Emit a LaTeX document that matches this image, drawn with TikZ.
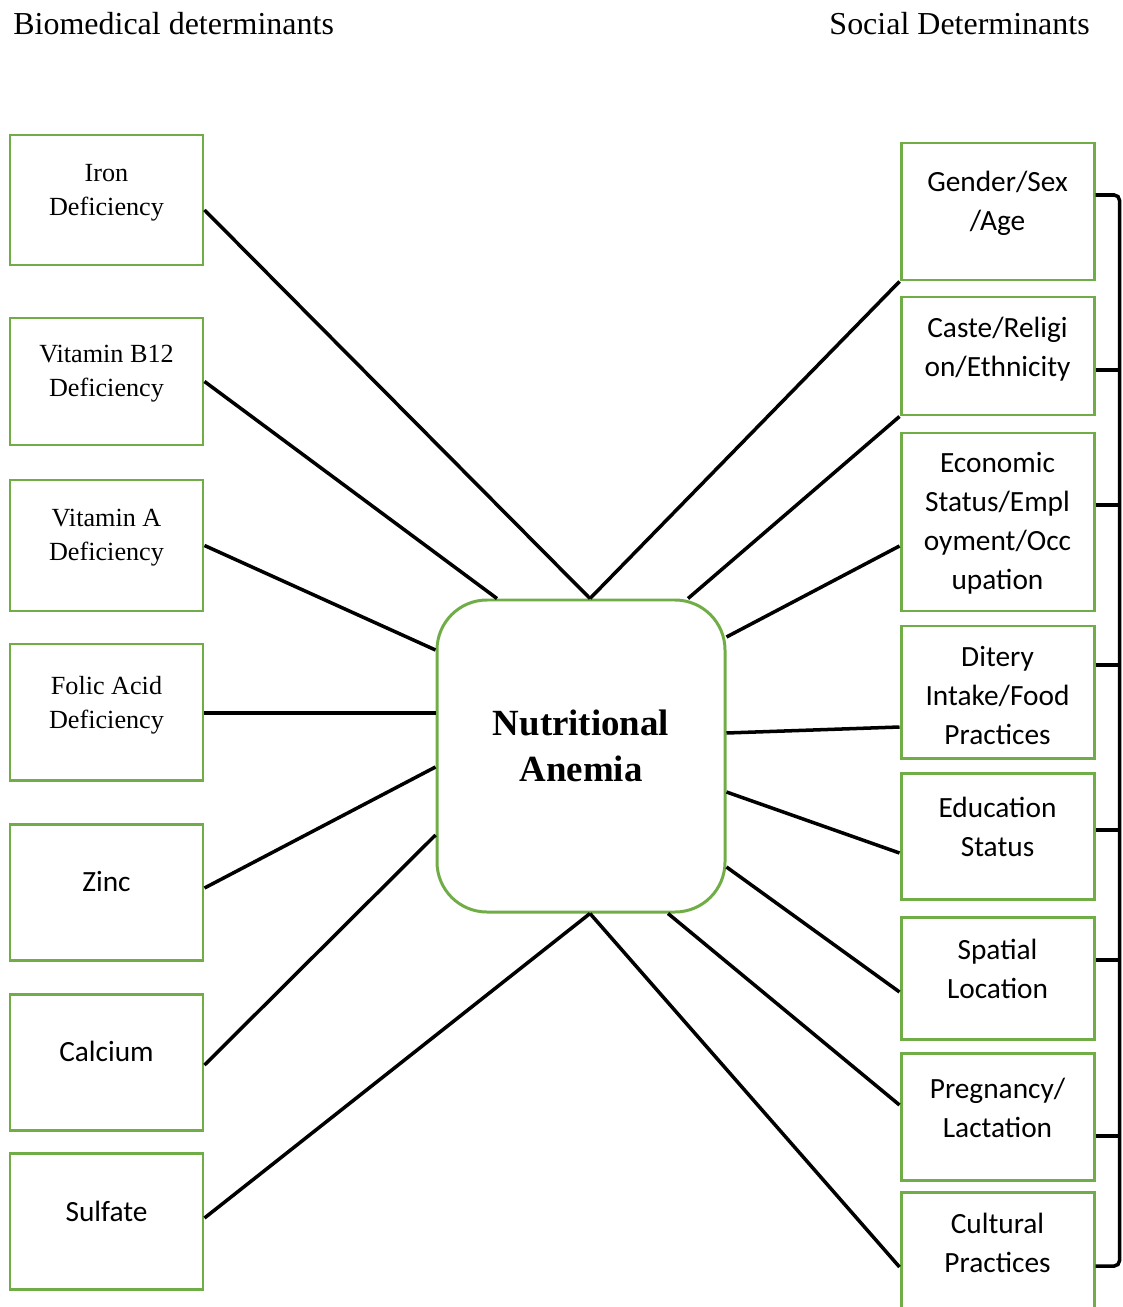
\documentclass[tikz,border=0pt]{standalone}
\usepackage{fontspec}
\setmainfont{Liberation Serif}
\newfontfamily\calibri{Carlito}
\usetikzlibrary{positioning}
\usetikzlibrary{calc}

\definecolor{boxgreen}{RGB}{112,173,71}

\begin{document}
\begin{tikzpicture}[x=0.02cm, y=-0.02cm,
    box/.style={rectangle, draw=boxgreen, line width=1.7pt, fill=white, minimum width=193*0.02cm, inner sep=0pt},
    ltxt/.style={align=center, font=\fontsize{14.9}{19.3}\selectfont, inner sep=0pt},
    rtxt/.style={align=center, font=\fontsize{16.7}{22.2}\selectfont\calibri, inner sep=0pt},
    link/.style={line width=2pt, black}]
        % Fix the page size
        \useasboundingbox (0,0) rectangle (1122,1307);
        \clip (0,0) rectangle (1122,1307);

        % Headings
        \node[anchor=base west, inner sep=0pt, font=\fontsize{18.2}{22}\selectfont] (bio) at (13,35) {Biomedical determinants};
        \node[anchor=base east, inner sep=0pt, font=\fontsize{18.2}{22}\selectfont] (soc) at (1090,35) {Social Determinants};

        % Central box
        \node[draw=boxgreen, line width=1.7pt, rounded corners=1cm, minimum width=288*0.02cm, minimum height=312*0.02cm] (na) at (581,756) {};
        \node[align=center, inner sep=0pt, font=\fontsize{21}{26.2}\selectfont\bfseries] (na-t) at (581,746) {Nutritional\\Anemia};

        % Biomedical boxes (left)
        \node[box, minimum height=130*0.02cm] (iron) at (106.5,200) {};
        \node[ltxt] (iron-t) at (106.5,192.5) {Iron\\Deficiency};
        \node[box, minimum height=127*0.02cm] (b12) at (106.5,381.5) {};
        \node[ltxt] (b12-t) at (106.5,374) {Vitamin B12\\Deficiency};
        \node[box, minimum height=131*0.02cm] (vita) at (106.5,545.5) {};
        \node[ltxt] (vita-t) at (106.5,538) {Vitamin A\\Deficiency};
        \node[box, minimum height=136*0.02cm] (folic) at (106.5,712) {};
        \node[ltxt] (folic-t) at (106.5,705) {Folic Acid\\Deficiency};
        \node[box, minimum height=136*0.02cm] (zinc) at (106.5,892) {};
        \node[rtxt] (zinc-t) at (106.5,881) {Zinc};
        \node[box, minimum height=136*0.02cm] (calcium) at (106.5,1062) {};
        \node[rtxt] (calcium-t) at (106.5,1051) {Calcium};
        \node[box, minimum height=136*0.02cm] (sulfate) at (106.5,1221) {};
        \node[rtxt] (sulfate-t) at (106.5,1211) {Sulfate};

        % Social boxes (right)
        \node[box, minimum height=137*0.02cm] (gender) at (997.5,211.5) {};
        \node[rtxt] (gender-t) at (997.5,203) {Gender/Sex\\/Age};
        \node[box, minimum height=118*0.02cm] (caste) at (997.5,356) {};
        \node[rtxt] (caste-t) at (997.5,349) {Caste/Religi\\on/Ethnicity};
        \node[box, minimum height=178*0.02cm] (econ) at (997.5,522) {};
        \node[rtxt] (econ-t) at (997.5,523) {Economic\\Status/Empl\\oyment/Occ\\upation};
        \node[box, minimum height=132*0.02cm] (ditery) at (997.5,692) {};
        \node[rtxt] (ditery-t) at (997.5,695.5) {Ditery\\Intake/Food\\Practices};
        \node[box, minimum height=126*0.02cm] (edu) at (997.5,836) {};
        \node[rtxt] (edu-t) at (997.5,827) {Education\\Status};
        \node[box, minimum height=122*0.02cm] (spatial) at (997.5,978) {};
        \node[rtxt] (spatial-t) at (997.5,969) {Spatial\\Location};
        \node[box, minimum height=127*0.02cm] (preg) at (997.5,1116.5) {};
        \node[rtxt] (preg-t) at (997.5,1107.5) {Pregnancy/\\Lactation};
        \node[box, minimum height=140*0.02cm] (cultural) at (997.5,1262) {};
        \node[rtxt] (cultural-t) at (997.5,1243) {Cultural\\Practices};

        % Links from the left
        \draw[link] ($(iron.east)+(0,10)$) -- ($(na.north)+(9,0)$);
        \draw[link] (b12.east) -- ($(na.north)+(-84,0)$);
        \draw[link] (vita.east) -- ($(na.west)+(0,-106)$);
        \draw[link] ($(folic.east)+(0,1)$) -- ($(na.west)+(0,-43)$);
        \draw[link] ($(zinc.east)+(0,-4)$) -- ($(na.west)+(0,11)$);
        \draw[link] ($(calcium.east)+(0,3)$) -- ($(na.west)+(0,79)$);
        \draw[link] ($(sulfate.east)+(0,-3)$) -- ($(na.south)+(9,0)$);

        % Links to the right
        \draw[link] (gender.south west) -- ($(na.north)+(9,0)$);
        \draw[link] (caste.south west) -- ($(na.north)+(107,0)$);
        \draw[link] ($(econ.west)+(0,24)$) -- ($(na.east)+(0,-119)$);
        \draw[link] ($(ditery.west)+(0,35)$) -- ($(na.east)+(0,-23)$);
        \draw[link] ($(edu.west)+(0,17)$) -- ($(na.east)+(0,36)$);
        \draw[link] ($(spatial.west)+(0,14)$) -- ($(na.east)+(0,111)$);
        \draw[link] ($(preg.west)+(0,-11.5)$) -- ($(na.south)+(87,0)$);
        \draw[link] ($(cultural.west)+(0,5)$) -- ($(na.south)+(9,0)$);

        % Bracket over the social boxes
        \coordinate (top) at ($(gender.east)+(0,-16.5)$);
        \coordinate (bot) at ($(cultural.east)+(0,4)$);
        \draw[link, rounded corners=3pt] (top) -- ++(24,0) |- (bot);
        \draw[link, rounded corners=3pt] ($(caste.east)+(0,14)$) -- ++(24,0);
        \draw[link, rounded corners=3pt] ($(econ.east)+(0,-17)$) -- ++(24,0);
        \draw[link, rounded corners=3pt] ($(ditery.east)+(0,-27)$) -- ++(24,0);
        \draw[link, rounded corners=3pt] ($(edu.east)+(0,-6)$) -- ++(24,0);
        \draw[link, rounded corners=3pt] ($(spatial.east)+(0,-18)$) -- ++(24,0);
        \draw[link, rounded corners=3pt] ($(preg.east)+(0,19.5)$) -- ++(24,0);
      \end{tikzpicture}
\end{document}
